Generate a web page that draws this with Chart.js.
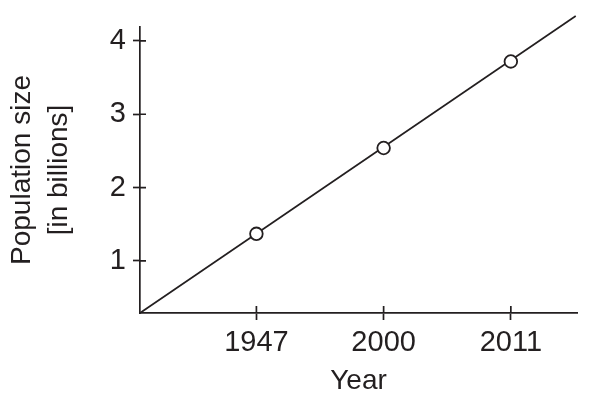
<html><head>
<style>body{margin:0;background:#fff}</style>
</head>
<body>
<script src="https://cdn.jsdelivr.net/npm/chart.js@4/dist/chart.umd.min.js"></script>
<canvas id="myChart" width="609" height="403"></canvas>
<script>
// x positions are category slots (1,2,3), labelled with years
yearLabels = ['1947', '2000', '2011'];
yearPos = [1, 2, 3];
population = [1.37, 2.54, 3.72];
// straight trend line, start and end
trendX = [0.085, 3.51];
trendY = [0.29, 4.34];
yTicks = [1, 2, 3, 4];

ink = '#231f20';
font = "'Liberation Sans', Arial, sans-serif";

// draw the inner half of the tick marks so they cross the axes
crossTicks = {
  id: 'crossTicks',
  afterDraw(chart) {
    let c = chart.ctx, xs = chart.scales.x, ys = chart.scales.y;
    c.save();
    c.strokeStyle = ink;
    c.lineWidth = 1.7;
    c.beginPath();
    yearPos.forEach(v => {
      let px = xs.getPixelForValue(v);
      c.moveTo(px, xs.top); c.lineTo(px, xs.top - 7);
    });
    yTicks.forEach(v => {
      let py = ys.getPixelForValue(v);
      c.moveTo(ys.right, py); c.lineTo(ys.right + 6, py);
    });
    c.stroke();
    c.restore();
  }
};

ctx = document.getElementById('myChart').getContext('2d');
myChart = new Chart(ctx, {
  type: 'scatter',
  data: {
    datasets: [{
      data: trendX.map((x, i) => ({x: x, y: trendY[i]})),
      showLine: true,
      borderColor: ink,
      borderWidth: 1.7,
      pointRadius: 0,
      clip: false,
      order: 2
    },
    {
      data: yearPos.map((x, i) => ({x: x, y: population[i]})),
      borderColor: ink,
      backgroundColor: '#fff',
      borderWidth: 1.8,
      pointRadius: 6.3,
      order: 1
    }]
  },
  plugins: [crossTicks],
  options: {
    responsive: false,
    animation: false,
    layout: { padding: { top: 27, right: 32, left: 0, bottom: 0 } },
    plugins: { legend: { display: false }, tooltip: { enabled: false } },
    scales: {
      x: {
        type: 'linear',
        min: 0.085, max: 3.52,
        afterBuildTicks: s => { s.ticks = yearPos.map(v => ({value: v})); },
        afterFit: s => { s.height = 90; },
        ticks: {
          color: ink, font: { family: font, size: 29 }, padding: 6,
          callback: (v) => yearLabels[yearPos.indexOf(v)]
        },
        grid: { drawOnChartArea: false, tickLength: 7, tickColor: ink, tickWidth: 1.7 },
        border: { color: ink, width: 1.7 },
        title: { display: true, text: 'Year', color: ink, font: { family: font, size: 28 }, padding: { top: 0, bottom: 5 } }
      },
      y: {
        type: 'linear',
        min: 0.29, max: 4.19,
        afterBuildTicks: s => { s.ticks = yTicks.map(v => ({value: v})); },
        afterFit: s => { s.width = 140; },
        ticks: { color: ink, font: { family: font, size: 29 }, padding: 7 },
        grid: { drawOnChartArea: false, tickLength: 7, tickColor: ink, tickWidth: 1.7 },
        border: { color: ink, width: 1.7 },
        title: {
          display: true, text: ['Population size', '[in billions]'], color: ink,
          font: { family: font, size: 28, lineHeight: 1.35 }, padding: { top: 3, bottom: 0 }
        }
      }
    }
  }
});
</script>
</body>
</html>
